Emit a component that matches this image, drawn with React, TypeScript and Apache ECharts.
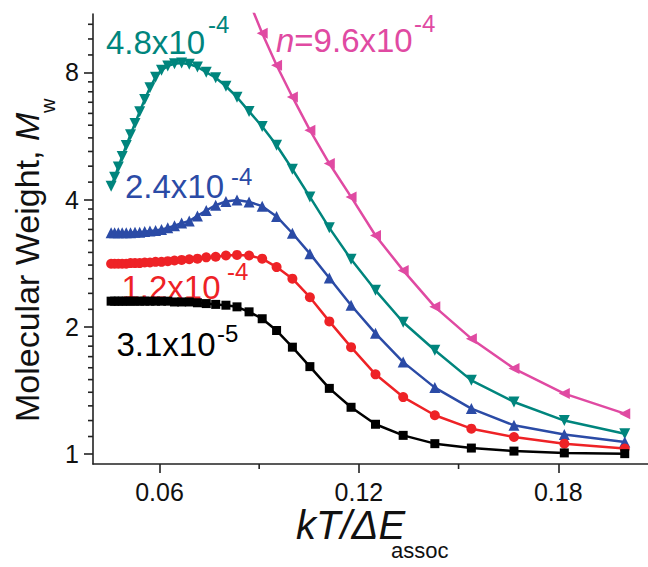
import React, { useEffect, useRef } from "react";
import * as echarts from "echarts";

// kT/ΔE_assoc values shared by every curve
const kT = [
  0.04545, 0.04651, 0.04762, 0.04878, 0.05, 0.05128, 0.05263, 0.05405, 0.05556, 0.05714,
  0.05882, 0.06061, 0.0625, 0.06452, 0.06667, 0.06897, 0.07143, 0.07407, 0.07692, 0.08,
  0.08333, 0.08696, 0.09091, 0.09524, 0.1, 0.10526, 0.11111, 0.11765, 0.125, 0.13333,
  0.14286, 0.15385, 0.16667, 0.18182, 0.2,
];

// Molecular weight M_w for each concentration n
const mw_3_1e5 = [
  2.3, 2.3, 2.3, 2.3, 2.3, 2.3, 2.3, 2.3, 2.3, 2.3, 2.3, 2.3, 2.3, 2.29, 2.29,
  2.29, 2.28, 2.27, 2.26, 2.25, 2.23, 2.17, 2.09, 1.96, 1.79, 1.61, 1.43, 1.29, 1.176, 1.107,
  1.058, 1.033, 1.016, 1.006, 1.002,
];
const mw_1_2e4 = [
  2.82, 2.82, 2.82, 2.82, 2.82, 2.83, 2.83, 2.83, 2.84, 2.84, 2.85, 2.85, 2.86, 2.87, 2.88,
  2.89, 2.9, 2.92, 2.93, 2.95, 2.96, 2.95, 2.9, 2.77, 2.6, 2.35, 2.06, 1.79, 1.544, 1.364,
  1.235, 1.148, 1.097, 1.058, 1.03,
];
const mw_2_4e4 = [
  3.34, 3.34, 3.34, 3.34, 3.34, 3.34, 3.35, 3.35, 3.36, 3.37, 3.38, 3.4, 3.43, 3.47, 3.52,
  3.56, 3.66, 3.77, 3.88, 3.96, 3.99, 3.95, 3.86, 3.65, 3.33, 2.98, 2.61, 2.25, 1.93, 1.65,
  1.436, 1.281, 1.169, 1.112, 1.067,
];
const mw_4_8e4 = [
  4.3, 4.52, 4.78, 5.06, 5.37, 5.7, 6.06, 6.46, 6.9, 7.36, 7.79, 8.1, 8.29, 8.39, 8.42,
  8.37, 8.24, 8.01, 7.77, 7.42, 6.99, 6.47, 5.96, 5.38, 4.72, 4.06, 3.43, 2.89, 2.44, 2.05,
  1.76, 1.494, 1.328, 1.2, 1.117,
];
const mw_9_6e4 = [
  null, null, null, null, null, null, null, null, null, null, null, null, null, null, null,
  null, null, null, null, null, null, 11.8, 9.9, 8.32, 7.0, 5.84, 4.87, 4.06, 3.29, 2.72,
  2.23, 1.875, 1.593, 1.39, 1.246,
];

// Axis ticks
const xMajorTicks = [0.06, 0.12, 0.18];
const xMinorTicks = [0.09, 0.15];
const yMajorTicks = [1, 2, 4, 8];
const yMinorTicks = [
  1.1, 1.2, 1.3, 1.4, 1.5, 1.6, 1.7, 1.8, 1.9,
  2.2, 2.4, 2.6, 2.8, 3.0, 3.2, 3.4, 3.6, 3.8,
  4.4, 4.8, 5.2, 5.6, 6.0, 6.4, 6.8, 7.2, 7.6,
  8.8, 9.6, 10.4,
];

const X_MIN = 0.04;
const X_MAX = 0.207;
const Y_MIN = 0.947;
const Y_MAX = 11;

const FONT = "'Liberation Sans', Arial, Helvetica, sans-serif";
const C_BLACK = "#000000";
const C_RED = "#ee2226";
const C_BLUE = "#2b4ba6";
const C_TEAL = "#00857d";
const C_MAGENTA = "#e04aa2";
const AXIS = "#222222";

export default function App() {
  const ref = useRef<HTMLDivElement>(null);
  useEffect(() => {
    const chart = echarts.init(ref.current as HTMLDivElement, null, { renderer: "svg" });
    const mk = (vals: (number | null)[]) =>
      kT.map((x, i) => [x, vals[i]]).filter((p) => p[1] !== null);
    const lineSeries = (name: string, vals: (number | null)[], color: string, symbol: string, size: number, rot: number) => ({
      name,
      type: "line",
      data: mk(vals),
      symbol,
      symbolSize: size,
      symbolRotate: rot,
      lineStyle: { color, width: 2.5 },
      itemStyle: { color },
      z: 3,
    });
    const txt = (text: string, x: number, y: number, fontSize: number, fill: string, extra: any = {}, rotation = 0) => ({
      type: "text",
      x,
      y,
      rotation,
      z: 1,
      style: {
        text,
        fontSize,
        fontFamily: FONT,
        fill,
        textAlign: "left",
        textVerticalAlign: "middle",
        verticalAlign: "middle",
        ...extra,
      },
    });
    const labels = [
      txt("4.8x10", 106, 42.6, 33, C_TEAL),
      txt("-4", 208, 24.7, 24, C_TEAL),
      txt("{i|n}=9.6x10", 276, 40.6, 33, C_MAGENTA, { rich: { i: { fontStyle: "italic", fontSize: 33, fontFamily: FONT, fill: C_MAGENTA } } }),
      txt("-4", 414, 23.4, 24, C_MAGENTA),
      txt("2.4x10", 125, 186.6, 33, C_BLUE),
      txt("-4", 231, 176.7, 24, C_BLUE),
      txt("1.2x10", 121.5, 287.5, 33, C_RED),
      txt("-4", 227, 271.5, 24, C_RED),
      txt("3.1x10", 116.5, 344.6, 33, C_BLACK),
      txt("-5", 217, 333.4, 24, C_BLACK),
      txt("kT/ΔE", 296, 525, 40, "#111", { fontStyle: "italic" }),
      txt("assoc", 391, 550.5, 22, "#111"),
      txt("Molecular Weight, {i|M}", 26.5, 422, 34, "#111", { rich: { i: { fontStyle: "italic", fontSize: 34, fontFamily: FONT, fill: "#111" } } }, Math.PI / 2),
      txt("w", 48, 113, 20, "#111", {}, Math.PI / 2),
    ];
    chart.setOption({
      animation: false,
      grid: { left: 93, top: 14, right: 0, bottom: 103, containLabel: false },
      xAxis: {
        type: "value",
        min: X_MIN,
        max: X_MAX,
        splitLine: { show: false },
        axisLine: { show: true, lineStyle: { color: AXIS, width: 1.6 } },
        axisTick: { show: true, customValues: xMajorTicks, length: 9, lineStyle: { color: AXIS, width: 1.6 } },
        axisLabel: {
          customValues: xMajorTicks,
          formatter: (v: number) => v.toFixed(2),
          fontSize: 25,
          fontFamily: FONT,
          color: "#111",
          margin: 15,
        },
      },
      yAxis: {
        type: "log",
        logBase: 2,
        min: Y_MIN,
        max: Y_MAX,
        splitLine: { show: false },
        axisLine: { show: true, lineStyle: { color: AXIS, width: 1.6 } },
        axisTick: { show: true, customValues: yMajorTicks, length: 9, lineStyle: { color: AXIS, width: 1.6 } },
        axisLabel: { customValues: yMajorTicks, fontSize: 25, fontFamily: FONT, color: "#111", margin: 14 },
      },
      series: [
        lineSeries("n=9.6e-4", mw_9_6e4, C_MAGENTA, "triangle", 11, 90),
        lineSeries("n=4.8e-4", mw_4_8e4, C_TEAL, "triangle", 11, 180),
        lineSeries("n=2.4e-4", mw_2_4e4, C_BLUE, "triangle", 11, 0),
        lineSeries("n=1.2e-4", mw_1_2e4, C_RED, "circle", 10, 0),
        lineSeries("n=3.1e-5", mw_3_1e5, C_BLACK, "rect", 9, 0),
      ],
      graphic: { elements: labels },
    });
    // minor ticks placed through the chart's own scales
    const tickEls: any[] = [];
    yMinorTicks.forEach((v) => {
      const p = chart.convertToPixel({ xAxisIndex: 0, yAxisIndex: 0 }, [X_MIN, v]) as number[];
      if (p && isFinite(p[0]) && isFinite(p[1])) {
        tickEls.push({
          type: "line",
          z: 5,
          shape: { x1: p[0] - 5, y1: p[1], x2: p[0], y2: p[1] },
          style: { stroke: AXIS, lineWidth: 1.6 },
        });
      }
    });
    xMinorTicks.forEach((v) => {
      const p = chart.convertToPixel({ xAxisIndex: 0, yAxisIndex: 0 }, [v, Y_MIN]) as number[];
      if (p && isFinite(p[0]) && isFinite(p[1])) {
        tickEls.push({
          type: "line",
          z: 5,
          shape: { x1: p[0], y1: p[1], x2: p[0], y2: p[1] + 5 },
          style: { stroke: AXIS, lineWidth: 1.6 },
        });
      }
    });
    chart.setOption({ graphic: { elements: [...labels, ...tickEls] } }, { replaceMerge: ["graphic"] });
    return () => chart.dispose();
  }, []);
  return <div ref={ref} style={{ position: "absolute", left: 0, top: 0, width: 648, height: 567 }} />;
}
